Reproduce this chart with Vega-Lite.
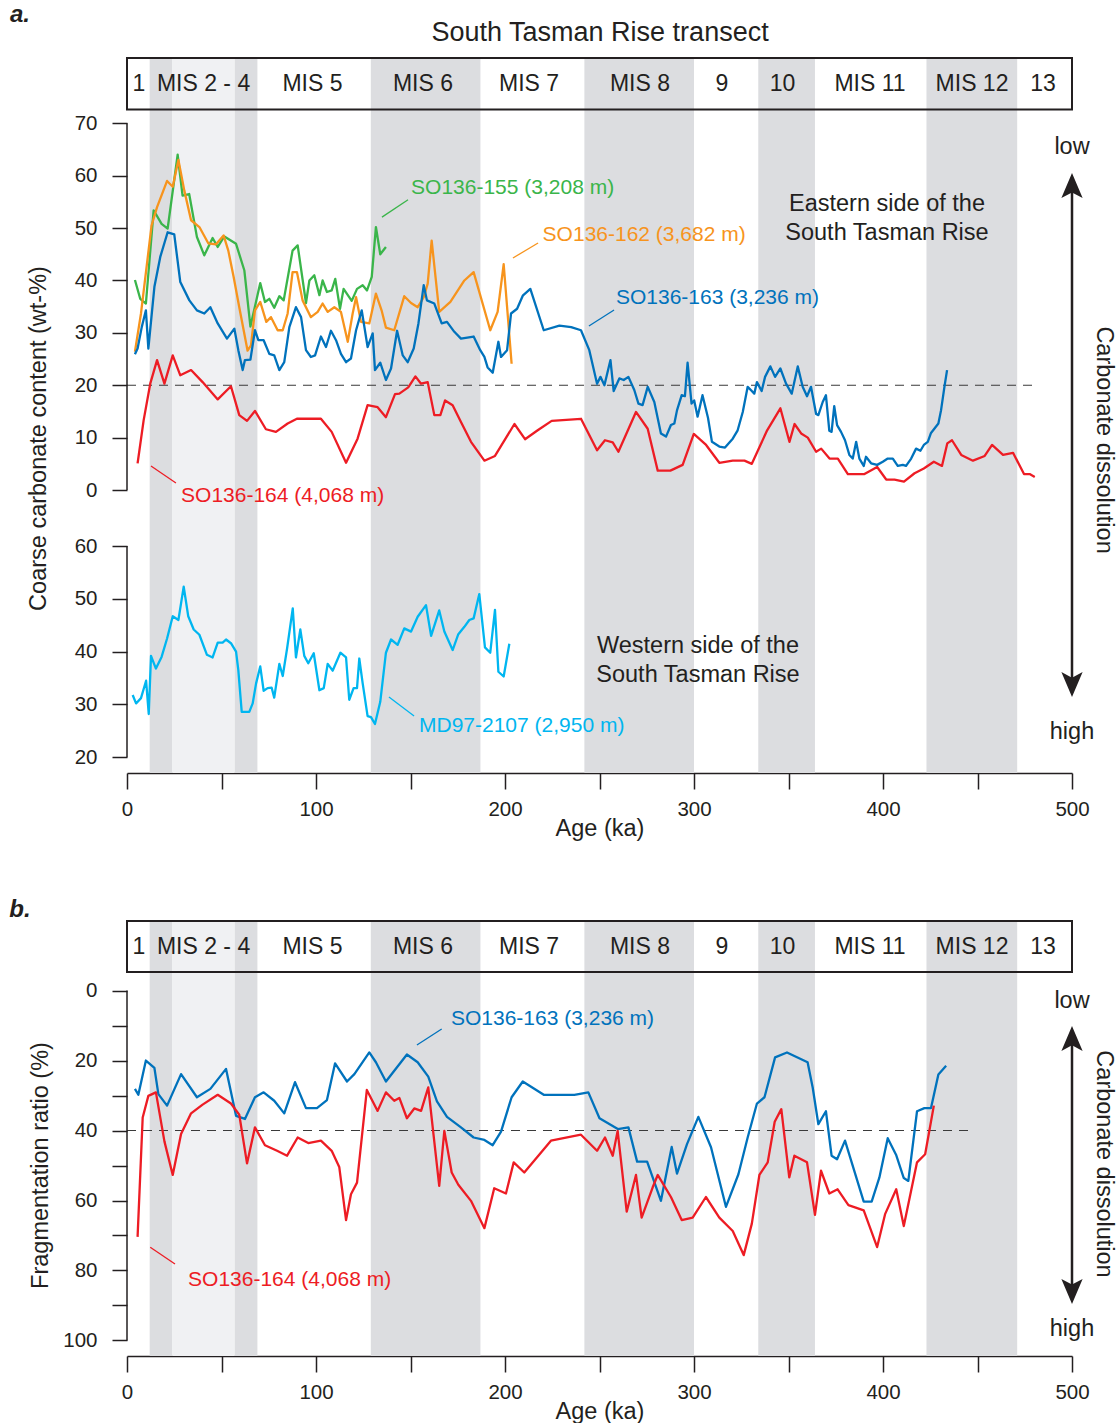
{
  "$schema": "https://vega.github.io/schema/vega-lite/v6.json",
  "background": "white",
  "padding": {"left": 9, "top": 3, "right": 4, "bottom": 0},
  "autosize": {"type": "pad"},
  "spacing": 57,
  "config": {
    "font": "Liberation Sans",
    "view": {"stroke": null},
    "axis": {
      "labelFont": "Liberation Sans", "titleFont": "Liberation Sans",
      "labelFontSize": 20.5, "titleFontSize": 23.5, "titleFontWeight": "normal",
      "labelColor": "#231f20", "titleColor": "#231f20",
      "tickColor": "#231f20", "domainColor": "#231f20",
      "tickWidth": 1.5, "domainWidth": 1.5, "grid": false
    },
    "text": {"font": "Liberation Sans", "color": "#231f20"}
  },
  "datasets": {
    "bands": [
      {"start": 12, "end": 24, "tone": "glacial"},
      {"start": 24, "end": 57, "tone": "interstadial"},
      {"start": 57, "end": 69, "tone": "glacial"},
      {"start": 129, "end": 187, "tone": "glacial"},
      {"start": 242, "end": 300, "tone": "glacial"},
      {"start": 334, "end": 364, "tone": "glacial"},
      {"start": 423, "end": 471, "tone": "glacial"}
    ],
    "stages": [
      {"label": "1", "age": 6.3}, {"label": "MIS 2 - 4", "age": 40.5}, {"label": "MIS 5", "age": 98.1},
      {"label": "MIS 6", "age": 156.6}, {"label": "MIS 7", "age": 212.7}, {"label": "MIS 8", "age": 271.4},
      {"label": "9", "age": 314.8}, {"label": "10", "age": 346.8}, {"label": "MIS 11", "age": 393.1},
      {"label": "MIS 12", "age": 447.1}, {"label": "13", "age": 484.7}
    ],
    "coarse": [
      {"core": "SO136-155", "age": 4.2, "value": 40.1}, {"core": "SO136-155", "age": 7.0, "value": 36.5},
      {"core": "SO136-155", "age": 10.0, "value": 35.6}, {"core": "SO136-155", "age": 14.1, "value": 53.4},
      {"core": "SO136-155", "age": 18.3, "value": 50.8}, {"core": "SO136-155", "age": 21.5, "value": 49.9},
      {"core": "SO136-155", "age": 26.8, "value": 64.0}, {"core": "SO136-155", "age": 29.4, "value": 56.2},
      {"core": "SO136-155", "age": 32.9, "value": 56.5}, {"core": "SO136-155", "age": 37.0, "value": 48.3},
      {"core": "SO136-155", "age": 40.9, "value": 44.8}, {"core": "SO136-155", "age": 45.3, "value": 48.1},
      {"core": "SO136-155", "age": 48.0, "value": 46.4}, {"core": "SO136-155", "age": 51.5, "value": 48.4},
      {"core": "SO136-155", "age": 57.7, "value": 47.0}, {"core": "SO136-155", "age": 62.1, "value": 41.9},
      {"core": "SO136-155", "age": 65.3, "value": 31.2}, {"core": "SO136-155", "age": 70.5, "value": 39.5},
      {"core": "SO136-155", "age": 73.0, "value": 35.9}, {"core": "SO136-155", "age": 75.3, "value": 36.5},
      {"core": "SO136-155", "age": 77.9, "value": 34.8}, {"core": "SO136-155", "age": 80.6, "value": 37.0},
      {"core": "SO136-155", "age": 82.9, "value": 36.2}, {"core": "SO136-155", "age": 87.6, "value": 45.7},
      {"core": "SO136-155", "age": 90.3, "value": 46.7}, {"core": "SO136-155", "age": 94.7, "value": 35.7},
      {"core": "SO136-155", "age": 96.5, "value": 40.0}, {"core": "SO136-155", "age": 99.1, "value": 41.0},
      {"core": "SO136-155", "age": 101.8, "value": 37.2}, {"core": "SO136-155", "age": 103.5, "value": 40.0},
      {"core": "SO136-155", "age": 105.8, "value": 37.8}, {"core": "SO136-155", "age": 108.3, "value": 38.1},
      {"core": "SO136-155", "age": 110.2, "value": 40.3}, {"core": "SO136-155", "age": 112.7, "value": 34.6},
      {"core": "SO136-155", "age": 114.6, "value": 38.4}, {"core": "SO136-155", "age": 118.9, "value": 36.1},
      {"core": "SO136-155", "age": 121.7, "value": 38.4}, {"core": "SO136-155", "age": 124.7, "value": 39.1},
      {"core": "SO136-155", "age": 127.0, "value": 38.1}, {"core": "SO136-155", "age": 129.5, "value": 40.7},
      {"core": "SO136-155", "age": 131.7, "value": 50.2}, {"core": "SO136-155", "age": 134.0, "value": 45.0},
      {"core": "SO136-155", "age": 137.0, "value": 46.4},

      {"core": "SO136-162", "age": 4.2, "value": 26.4}, {"core": "SO136-162", "age": 7.4, "value": 33.7},
      {"core": "SO136-162", "age": 13.0, "value": 50.5}, {"core": "SO136-162", "age": 15.9, "value": 54.0},
      {"core": "SO136-162", "age": 21.2, "value": 59.0}, {"core": "SO136-162", "age": 24.2, "value": 57.9},
      {"core": "SO136-162", "age": 27.2, "value": 63.0}, {"core": "SO136-162", "age": 30.3, "value": 57.2},
      {"core": "SO136-162", "age": 33.9, "value": 51.5}, {"core": "SO136-162", "age": 38.3, "value": 50.2},
      {"core": "SO136-162", "age": 43.0, "value": 47.1}, {"core": "SO136-162", "age": 47.1, "value": 46.9},
      {"core": "SO136-162", "age": 51.1, "value": 48.6}, {"core": "SO136-162", "age": 53.6, "value": 45.7},
      {"core": "SO136-162", "age": 56.4, "value": 40.7}, {"core": "SO136-162", "age": 59.4, "value": 34.9},
      {"core": "SO136-162", "age": 63.8, "value": 26.6}, {"core": "SO136-162", "age": 65.6, "value": 27.6},
      {"core": "SO136-162", "age": 67.7, "value": 34.3}, {"core": "SO136-162", "age": 70.5, "value": 35.9},
      {"core": "SO136-162", "age": 73.7, "value": 32.1}, {"core": "SO136-162", "age": 76.2, "value": 33.0},
      {"core": "SO136-162", "age": 79.7, "value": 30.5}, {"core": "SO136-162", "age": 82.4, "value": 30.5},
      {"core": "SO136-162", "age": 85.0, "value": 33.7}, {"core": "SO136-162", "age": 87.6, "value": 41.6},
      {"core": "SO136-162", "age": 89.9, "value": 41.6}, {"core": "SO136-162", "age": 92.9, "value": 36.2},
      {"core": "SO136-162", "age": 97.3, "value": 33.0}, {"core": "SO136-162", "age": 100.9, "value": 34.0},
      {"core": "SO136-162", "age": 103.5, "value": 35.6}, {"core": "SO136-162", "age": 106.2, "value": 34.0},
      {"core": "SO136-162", "age": 109.7, "value": 34.9}, {"core": "SO136-162", "age": 113.2, "value": 34.0},
      {"core": "SO136-162", "age": 116.8, "value": 28.3}, {"core": "SO136-162", "age": 119.4, "value": 33.7},
      {"core": "SO136-162", "age": 121.2, "value": 36.8}, {"core": "SO136-162", "age": 123.8, "value": 32.1},
      {"core": "SO136-162", "age": 128.2, "value": 31.8}, {"core": "SO136-162", "age": 131.7, "value": 37.5},
      {"core": "SO136-162", "age": 134.7, "value": 34.3}, {"core": "SO136-162", "age": 137.0, "value": 31.0},
      {"core": "SO136-162", "age": 141.4, "value": 30.5}, {"core": "SO136-162", "age": 146.7, "value": 37.0},
      {"core": "SO136-162", "age": 150.3, "value": 35.7}, {"core": "SO136-162", "age": 153.8, "value": 34.9},
      {"core": "SO136-162", "age": 157.0, "value": 36.8}, {"core": "SO136-162", "age": 159.1, "value": 39.4},
      {"core": "SO136-162", "age": 161.2, "value": 47.6}, {"core": "SO136-162", "age": 165.2, "value": 34.0},
      {"core": "SO136-162", "age": 171.1, "value": 35.9}, {"core": "SO136-162", "age": 178.5, "value": 40.0},
      {"core": "SO136-162", "age": 183.4, "value": 41.6}, {"core": "SO136-162", "age": 192.2, "value": 30.5},
      {"core": "SO136-162", "age": 196.1, "value": 34.0}, {"core": "SO136-162", "age": 199.3, "value": 43.1},
      {"core": "SO136-162", "age": 203.5, "value": 24.1},

      {"core": "SO136-163", "age": 4.2, "value": 25.9}, {"core": "SO136-163", "age": 5.6, "value": 27.0},
      {"core": "SO136-163", "age": 7.8, "value": 31.1}, {"core": "SO136-163", "age": 10.0, "value": 34.3},
      {"core": "SO136-163", "age": 11.3, "value": 27.0}, {"core": "SO136-163", "age": 14.5, "value": 38.8},
      {"core": "SO136-163", "age": 17.6, "value": 44.5}, {"core": "SO136-163", "age": 21.5, "value": 49.2},
      {"core": "SO136-163", "age": 25.0, "value": 48.8}, {"core": "SO136-163", "age": 28.2, "value": 39.7},
      {"core": "SO136-163", "age": 33.0, "value": 36.2}, {"core": "SO136-163", "age": 37.0, "value": 34.3},
      {"core": "SO136-163", "age": 40.9, "value": 33.7}, {"core": "SO136-163", "age": 44.1, "value": 34.9},
      {"core": "SO136-163", "age": 48.0, "value": 31.8}, {"core": "SO136-163", "age": 52.9, "value": 28.9},
      {"core": "SO136-163", "age": 56.8, "value": 30.8}, {"core": "SO136-163", "age": 58.9, "value": 26.7},
      {"core": "SO136-163", "age": 61.2, "value": 22.9}, {"core": "SO136-163", "age": 62.4, "value": 24.8},
      {"core": "SO136-163", "age": 65.3, "value": 24.9}, {"core": "SO136-163", "age": 67.7, "value": 30.5},
      {"core": "SO136-163", "age": 69.5, "value": 28.6}, {"core": "SO136-163", "age": 72.3, "value": 28.6},
      {"core": "SO136-163", "age": 75.3, "value": 26.0}, {"core": "SO136-163", "age": 77.9, "value": 25.7},
      {"core": "SO136-163", "age": 80.6, "value": 22.9}, {"core": "SO136-163", "age": 83.2, "value": 24.4},
      {"core": "SO136-163", "age": 85.9, "value": 31.1}, {"core": "SO136-163", "age": 89.4, "value": 34.9},
      {"core": "SO136-163", "age": 92.1, "value": 33.0}, {"core": "SO136-163", "age": 94.7, "value": 26.7},
      {"core": "SO136-163", "age": 97.3, "value": 25.4}, {"core": "SO136-163", "age": 99.5, "value": 25.7},
      {"core": "SO136-163", "age": 102.6, "value": 29.3}, {"core": "SO136-163", "age": 105.3, "value": 27.3},
      {"core": "SO136-163", "age": 107.9, "value": 30.4}, {"core": "SO136-163", "age": 110.6, "value": 28.6},
      {"core": "SO136-163", "age": 113.2, "value": 26.0}, {"core": "SO136-163", "age": 115.9, "value": 24.4},
      {"core": "SO136-163", "age": 118.5, "value": 25.1}, {"core": "SO136-163", "age": 121.2, "value": 30.5},
      {"core": "SO136-163", "age": 124.2, "value": 34.3}, {"core": "SO136-163", "age": 127.3, "value": 27.3},
      {"core": "SO136-163", "age": 130.0, "value": 29.9}, {"core": "SO136-163", "age": 131.2, "value": 22.9},
      {"core": "SO136-163", "age": 134.0, "value": 24.3}, {"core": "SO136-163", "age": 137.0, "value": 21.0},
      {"core": "SO136-163", "age": 139.7, "value": 23.2}, {"core": "SO136-163", "age": 142.9, "value": 30.4},
      {"core": "SO136-163", "age": 145.9, "value": 25.7}, {"core": "SO136-163", "age": 148.5, "value": 24.4},
      {"core": "SO136-163", "age": 151.7, "value": 27.0}, {"core": "SO136-163", "age": 154.2, "value": 31.8},
      {"core": "SO136-163", "age": 157.0, "value": 39.1}, {"core": "SO136-163", "age": 158.7, "value": 36.2},
      {"core": "SO136-163", "age": 162.6, "value": 35.6}, {"core": "SO136-163", "age": 166.5, "value": 31.8},
      {"core": "SO136-163", "age": 169.3, "value": 32.1}, {"core": "SO136-163", "age": 173.2, "value": 30.2},
      {"core": "SO136-163", "age": 176.7, "value": 28.9}, {"core": "SO136-163", "age": 183.4, "value": 29.3},
      {"core": "SO136-163", "age": 186.9, "value": 26.7}, {"core": "SO136-163", "age": 189.1, "value": 25.4},
      {"core": "SO136-163", "age": 190.8, "value": 23.4}, {"core": "SO136-163", "age": 193.5, "value": 22.4},
      {"core": "SO136-163", "age": 196.5, "value": 28.3}, {"core": "SO136-163", "age": 197.9, "value": 25.4},
      {"core": "SO136-163", "age": 201.1, "value": 26.7}, {"core": "SO136-163", "age": 203.2, "value": 33.7},
      {"core": "SO136-163", "age": 206.4, "value": 34.6}, {"core": "SO136-163", "age": 209.4, "value": 37.1},
      {"core": "SO136-163", "age": 213.4, "value": 38.4}, {"core": "SO136-163", "age": 220.5, "value": 30.5},
      {"core": "SO136-163", "age": 228.8, "value": 31.4}, {"core": "SO136-163", "age": 235.0, "value": 31.1},
      {"core": "SO136-163", "age": 240.2, "value": 30.5}, {"core": "SO136-163", "age": 244.6, "value": 26.7},
      {"core": "SO136-163", "age": 248.7, "value": 20.3}, {"core": "SO136-163", "age": 250.5, "value": 21.6},
      {"core": "SO136-163", "age": 252.6, "value": 20.0}, {"core": "SO136-163", "age": 255.8, "value": 24.8},
      {"core": "SO136-163", "age": 257.5, "value": 18.9}, {"core": "SO136-163", "age": 260.5, "value": 21.3},
      {"core": "SO136-163", "age": 262.8, "value": 21.0}, {"core": "SO136-163", "age": 265.3, "value": 21.6},
      {"core": "SO136-163", "age": 268.4, "value": 19.1}, {"core": "SO136-163", "age": 270.6, "value": 16.5},
      {"core": "SO136-163", "age": 272.8, "value": 16.2}, {"core": "SO136-163", "age": 275.5, "value": 19.7},
      {"core": "SO136-163", "age": 279.0, "value": 16.8}, {"core": "SO136-163", "age": 282.5, "value": 10.8},
      {"core": "SO136-163", "age": 285.2, "value": 10.2}, {"core": "SO136-163", "age": 287.8, "value": 12.4},
      {"core": "SO136-163", "age": 289.6, "value": 12.7}, {"core": "SO136-163", "age": 291.0, "value": 15.2},
      {"core": "SO136-163", "age": 293.5, "value": 18.1}, {"core": "SO136-163", "age": 295.2, "value": 17.9},
      {"core": "SO136-163", "age": 296.6, "value": 24.3}, {"core": "SO136-163", "age": 298.7, "value": 16.5},
      {"core": "SO136-163", "age": 300.1, "value": 17.1}, {"core": "SO136-163", "age": 301.9, "value": 14.0},
      {"core": "SO136-163", "age": 304.5, "value": 18.1}, {"core": "SO136-163", "age": 307.4, "value": 13.8},
      {"core": "SO136-163", "age": 309.5, "value": 9.2}, {"core": "SO136-163", "age": 313.4, "value": 8.3},
      {"core": "SO136-163", "age": 316.4, "value": 8.1}, {"core": "SO136-163", "age": 320.5, "value": 9.8},
      {"core": "SO136-163", "age": 323.1, "value": 11.4}, {"core": "SO136-163", "age": 325.8, "value": 14.9},
      {"core": "SO136-163", "age": 328.4, "value": 19.7}, {"core": "SO136-163", "age": 330.2, "value": 19.05},
      {"core": "SO136-163", "age": 331.9, "value": 18.4}, {"core": "SO136-163", "age": 333.3, "value": 20.6},
      {"core": "SO136-163", "age": 335.8, "value": 18.9}, {"core": "SO136-163", "age": 337.6, "value": 21.6},
      {"core": "SO136-163", "age": 340.4, "value": 23.6}, {"core": "SO136-163", "age": 342.9, "value": 21.6},
      {"core": "SO136-163", "age": 345.7, "value": 23.2}, {"core": "SO136-163", "age": 348.7, "value": 20.3},
      {"core": "SO136-163", "age": 351.7, "value": 18.4}, {"core": "SO136-163", "age": 354.9, "value": 23.6},
      {"core": "SO136-163", "age": 357.5, "value": 19.7}, {"core": "SO136-163", "age": 359.8, "value": 17.9},
      {"core": "SO136-163", "age": 361.9, "value": 19.7}, {"core": "SO136-163", "age": 364.6, "value": 14.5},
      {"core": "SO136-163", "age": 365.8, "value": 14.3}, {"core": "SO136-163", "age": 368.1, "value": 16.8},
      {"core": "SO136-163", "age": 369.8, "value": 18.1}, {"core": "SO136-163", "age": 371.6, "value": 11.3},
      {"core": "SO136-163", "age": 372.8, "value": 11.1}, {"core": "SO136-163", "age": 374.2, "value": 16.0},
      {"core": "SO136-163", "age": 375.7, "value": 12.4}, {"core": "SO136-163", "age": 377.8, "value": 11.1},
      {"core": "SO136-163", "age": 379.9, "value": 9.5}, {"core": "SO136-163", "age": 382.2, "value": 6.7},
      {"core": "SO136-163", "age": 384.0, "value": 6.0}, {"core": "SO136-163", "age": 385.8, "value": 9.2},
      {"core": "SO136-163", "age": 387.5, "value": 6.0}, {"core": "SO136-163", "age": 389.8, "value": 4.6},
      {"core": "SO136-163", "age": 391.0, "value": 6.35}, {"core": "SO136-163", "age": 393.7, "value": 5.1},
      {"core": "SO136-163", "age": 396.9, "value": 4.8}, {"core": "SO136-163", "age": 399.9, "value": 5.4},
      {"core": "SO136-163", "age": 402.5, "value": 6.0}, {"core": "SO136-163", "age": 405.2, "value": 6.0},
      {"core": "SO136-163", "age": 407.8, "value": 4.6}, {"core": "SO136-163", "age": 410.5, "value": 4.8},
      {"core": "SO136-163", "age": 412.2, "value": 4.6}, {"core": "SO136-163", "age": 414.9, "value": 6.0},
      {"core": "SO136-163", "age": 417.5, "value": 7.9}, {"core": "SO136-163", "age": 419.8, "value": 7.5},
      {"core": "SO136-163", "age": 421.6, "value": 8.6}, {"core": "SO136-163", "age": 423.7, "value": 9.2},
      {"core": "SO136-163", "age": 425.4, "value": 10.9}, {"core": "SO136-163", "age": 429.3, "value": 12.7},
      {"core": "SO136-163", "age": 430.7, "value": 15.2}, {"core": "SO136-163", "age": 432.5, "value": 19.7},
      {"core": "SO136-163", "age": 433.9, "value": 22.9},

      {"core": "SO136-164", "age": 5.6, "value": 5.1}, {"core": "SO136-164", "age": 8.8, "value": 13.3},
      {"core": "SO136-164", "age": 12.3, "value": 20.3}, {"core": "SO136-164", "age": 15.9, "value": 24.8},
      {"core": "SO136-164", "age": 19.8, "value": 20.3}, {"core": "SO136-164", "age": 24.2, "value": 25.7},
      {"core": "SO136-164", "age": 28.2, "value": 21.9}, {"core": "SO136-164", "age": 33.9, "value": 22.9},
      {"core": "SO136-164", "age": 40.0, "value": 20.6}, {"core": "SO136-164", "age": 48.0, "value": 17.3},
      {"core": "SO136-164", "age": 55.0, "value": 19.8}, {"core": "SO136-164", "age": 59.4, "value": 14.3},
      {"core": "SO136-164", "age": 63.5, "value": 13.2}, {"core": "SO136-164", "age": 67.7, "value": 15.1},
      {"core": "SO136-164", "age": 73.5, "value": 11.6}, {"core": "SO136-164", "age": 78.8, "value": 11.1},
      {"core": "SO136-164", "age": 85.0, "value": 12.7}, {"core": "SO136-164", "age": 89.9, "value": 13.6},
      {"core": "SO136-164", "age": 102.6, "value": 13.6}, {"core": "SO136-164", "age": 108.3, "value": 11.1},
      {"core": "SO136-164", "age": 115.9, "value": 5.2}, {"core": "SO136-164", "age": 122.0, "value": 9.8},
      {"core": "SO136-164", "age": 127.3, "value": 16.2}, {"core": "SO136-164", "age": 132.6, "value": 15.8},
      {"core": "SO136-164", "age": 137.0, "value": 13.9}, {"core": "SO136-164", "age": 141.8, "value": 18.3},
      {"core": "SO136-164", "age": 144.1, "value": 18.4}, {"core": "SO136-164", "age": 148.8, "value": 19.6},
      {"core": "SO136-164", "age": 152.6, "value": 21.7}, {"core": "SO136-164", "age": 155.6, "value": 20.3},
      {"core": "SO136-164", "age": 159.1, "value": 20.6}, {"core": "SO136-164", "age": 162.6, "value": 14.3},
      {"core": "SO136-164", "age": 165.8, "value": 14.3}, {"core": "SO136-164", "age": 168.3, "value": 17.1},
      {"core": "SO136-164", "age": 172.3, "value": 16.2}, {"core": "SO136-164", "age": 176.7, "value": 13.0},
      {"core": "SO136-164", "age": 182.0, "value": 9.2}, {"core": "SO136-164", "age": 189.1, "value": 5.6},
      {"core": "SO136-164", "age": 194.7, "value": 6.5}, {"core": "SO136-164", "age": 205.0, "value": 12.6},
      {"core": "SO136-164", "age": 210.6, "value": 9.7}, {"core": "SO136-164", "age": 217.3, "value": 11.4},
      {"core": "SO136-164", "age": 224.7, "value": 13.2}, {"core": "SO136-164", "age": 240.2, "value": 13.6},
      {"core": "SO136-164", "age": 248.7, "value": 7.6}, {"core": "SO136-164", "age": 252.9, "value": 9.5},
      {"core": "SO136-164", "age": 257.0, "value": 9.1}, {"core": "SO136-164", "age": 260.0, "value": 7.3},
      {"core": "SO136-164", "age": 269.3, "value": 14.9}, {"core": "SO136-164", "age": 275.5, "value": 11.7},
      {"core": "SO136-164", "age": 280.8, "value": 3.7}, {"core": "SO136-164", "age": 287.5, "value": 3.7},
      {"core": "SO136-164", "age": 294.0, "value": 4.8}, {"core": "SO136-164", "age": 299.9, "value": 10.7},
      {"core": "SO136-164", "age": 306.4, "value": 8.6}, {"core": "SO136-164", "age": 313.4, "value": 5.2},
      {"core": "SO136-164", "age": 320.5, "value": 5.6}, {"core": "SO136-164", "age": 326.7, "value": 5.6},
      {"core": "SO136-164", "age": 330.6, "value": 5.0}, {"core": "SO136-164", "age": 338.7, "value": 11.4},
      {"core": "SO136-164", "age": 345.7, "value": 15.6}, {"core": "SO136-164", "age": 350.5, "value": 9.2},
      {"core": "SO136-164", "age": 353.2, "value": 12.6}, {"core": "SO136-164", "age": 356.7, "value": 10.8},
      {"core": "SO136-164", "age": 360.2, "value": 10.0}, {"core": "SO136-164", "age": 364.6, "value": 7.3},
      {"core": "SO136-164", "age": 367.3, "value": 7.9}, {"core": "SO136-164", "age": 371.7, "value": 6.0},
      {"core": "SO136-164", "age": 376.1, "value": 6.0}, {"core": "SO136-164", "age": 381.4, "value": 3.05},
      {"core": "SO136-164", "age": 390.2, "value": 3.05}, {"core": "SO136-164", "age": 396.9, "value": 4.4},
      {"core": "SO136-164", "age": 401.7, "value": 2.0}, {"core": "SO136-164", "age": 406.1, "value": 2.0},
      {"core": "SO136-164", "age": 411.1, "value": 1.6}, {"core": "SO136-164", "age": 416.7, "value": 3.2},
      {"core": "SO136-164", "age": 421.6, "value": 4.1}, {"core": "SO136-164", "age": 426.9, "value": 5.4},
      {"core": "SO136-164", "age": 431.2, "value": 4.6}, {"core": "SO136-164", "age": 434.0, "value": 8.9},
      {"core": "SO136-164", "age": 436.5, "value": 9.5}, {"core": "SO136-164", "age": 441.4, "value": 6.7},
      {"core": "SO136-164", "age": 447.6, "value": 5.6}, {"core": "SO136-164", "age": 453.8, "value": 6.5},
      {"core": "SO136-164", "age": 457.7, "value": 8.6}, {"core": "SO136-164", "age": 463.5, "value": 6.7},
      {"core": "SO136-164", "age": 468.8, "value": 7.1}, {"core": "SO136-164", "age": 474.6, "value": 3.05},
      {"core": "SO136-164", "age": 477.6, "value": 3.05}, {"core": "SO136-164", "age": 480.3, "value": 2.5}
    ],
    "md97": [
      {"core": "MD97-2107", "age": 3.0, "value": 31.8}, {"core": "MD97-2107", "age": 4.8, "value": 30.2},
      {"core": "MD97-2107", "age": 7.4, "value": 31.2}, {"core": "MD97-2107", "age": 10.1, "value": 34.5},
      {"core": "MD97-2107", "age": 11.5, "value": 28.2}, {"core": "MD97-2107", "age": 12.7, "value": 39.2},
      {"core": "MD97-2107", "age": 15.3, "value": 36.8}, {"core": "MD97-2107", "age": 18.3, "value": 39.0},
      {"core": "MD97-2107", "age": 21.2, "value": 42.5}, {"core": "MD97-2107", "age": 24.2, "value": 46.7},
      {"core": "MD97-2107", "age": 27.2, "value": 46.0}, {"core": "MD97-2107", "age": 30.0, "value": 52.3},
      {"core": "MD97-2107", "age": 32.4, "value": 46.7}, {"core": "MD97-2107", "age": 35.3, "value": 44.2},
      {"core": "MD97-2107", "age": 38.3, "value": 43.2}, {"core": "MD97-2107", "age": 42.3, "value": 39.4},
      {"core": "MD97-2107", "age": 45.3, "value": 38.9}, {"core": "MD97-2107", "age": 48.0, "value": 41.7},
      {"core": "MD97-2107", "age": 50.6, "value": 41.7}, {"core": "MD97-2107", "age": 52.4, "value": 42.3},
      {"core": "MD97-2107", "age": 55.0, "value": 41.6}, {"core": "MD97-2107", "age": 57.7, "value": 40.0},
      {"core": "MD97-2107", "age": 58.9, "value": 36.5}, {"core": "MD97-2107", "age": 60.7, "value": 28.6},
      {"core": "MD97-2107", "age": 64.7, "value": 28.6}, {"core": "MD97-2107", "age": 66.5, "value": 30.2},
      {"core": "MD97-2107", "age": 68.3, "value": 34.0}, {"core": "MD97-2107", "age": 70.5, "value": 37.2},
      {"core": "MD97-2107", "age": 72.3, "value": 32.6}, {"core": "MD97-2107", "age": 74.4, "value": 33.1},
      {"core": "MD97-2107", "age": 76.5, "value": 33.2}, {"core": "MD97-2107", "age": 77.9, "value": 31.3},
      {"core": "MD97-2107", "age": 80.6, "value": 37.7}, {"core": "MD97-2107", "age": 82.4, "value": 35.4},
      {"core": "MD97-2107", "age": 84.7, "value": 40.6}, {"core": "MD97-2107", "age": 87.7, "value": 48.2},
      {"core": "MD97-2107", "age": 89.4, "value": 38.9}, {"core": "MD97-2107", "age": 91.7, "value": 44.2},
      {"core": "MD97-2107", "age": 93.8, "value": 39.2}, {"core": "MD97-2107", "age": 95.9, "value": 37.8},
      {"core": "MD97-2107", "age": 98.8, "value": 39.7}, {"core": "MD97-2107", "age": 101.8, "value": 32.7},
      {"core": "MD97-2107", "age": 104.1, "value": 33.1}, {"core": "MD97-2107", "age": 106.2, "value": 37.7},
      {"core": "MD97-2107", "age": 108.8, "value": 36.4}, {"core": "MD97-2107", "age": 112.9, "value": 39.8},
      {"core": "MD97-2107", "age": 115.9, "value": 38.9}, {"core": "MD97-2107", "age": 117.6, "value": 30.9},
      {"core": "MD97-2107", "age": 119.9, "value": 33.1}, {"core": "MD97-2107", "age": 121.7, "value": 33.1},
      {"core": "MD97-2107", "age": 122.9, "value": 38.7}, {"core": "MD97-2107", "age": 124.7, "value": 34.0},
      {"core": "MD97-2107", "age": 127.3, "value": 27.8}, {"core": "MD97-2107", "age": 129.1, "value": 27.6},
      {"core": "MD97-2107", "age": 131.2, "value": 26.3}, {"core": "MD97-2107", "age": 134.0, "value": 30.5},
      {"core": "MD97-2107", "age": 137.0, "value": 39.8}, {"core": "MD97-2107", "age": 139.7, "value": 42.3},
      {"core": "MD97-2107", "age": 143.2, "value": 41.3}, {"core": "MD97-2107", "age": 146.7, "value": 44.4},
      {"core": "MD97-2107", "age": 150.3, "value": 43.8}, {"core": "MD97-2107", "age": 153.8, "value": 46.6},
      {"core": "MD97-2107", "age": 158.2, "value": 48.8}, {"core": "MD97-2107", "age": 160.9, "value": 43.0},
      {"core": "MD97-2107", "age": 165.2, "value": 47.8}, {"core": "MD97-2107", "age": 167.9, "value": 43.8},
      {"core": "MD97-2107", "age": 172.3, "value": 40.3}, {"core": "MD97-2107", "age": 175.3, "value": 43.3},
      {"core": "MD97-2107", "age": 178.5, "value": 44.7}, {"core": "MD97-2107", "age": 181.1, "value": 46.0},
      {"core": "MD97-2107", "age": 183.4, "value": 46.3}, {"core": "MD97-2107", "age": 186.4, "value": 50.9},
      {"core": "MD97-2107", "age": 189.4, "value": 40.8}, {"core": "MD97-2107", "age": 192.2, "value": 39.8},
      {"core": "MD97-2107", "age": 194.7, "value": 47.9}, {"core": "MD97-2107", "age": 196.5, "value": 36.2},
      {"core": "MD97-2107", "age": 199.3, "value": 35.3}, {"core": "MD97-2107", "age": 202.3, "value": 41.5}
    ],
    "fragmentation": [
      {"core": "SO136-163", "age": 4.2, "value": 28.1}, {"core": "SO136-163", "age": 6.0, "value": 29.8},
      {"core": "SO136-163", "age": 10.0, "value": 20.0}, {"core": "SO136-163", "age": 14.5, "value": 22.1},
      {"core": "SO136-163", "age": 16.6, "value": 29.6}, {"core": "SO136-163", "age": 21.2, "value": 32.9},
      {"core": "SO136-163", "age": 28.6, "value": 23.9}, {"core": "SO136-163", "age": 37.0, "value": 30.5},
      {"core": "SO136-163", "age": 44.1, "value": 28.1}, {"core": "SO136-163", "age": 52.4, "value": 22.4},
      {"core": "SO136-163", "age": 57.7, "value": 35.8}, {"core": "SO136-163", "age": 62.4, "value": 36.7},
      {"core": "SO136-163", "age": 67.7, "value": 30.5}, {"core": "SO136-163", "age": 72.3, "value": 29.1},
      {"core": "SO136-163", "age": 77.9, "value": 31.5}, {"core": "SO136-163", "age": 83.2, "value": 35.1},
      {"core": "SO136-163", "age": 88.9, "value": 26.2}, {"core": "SO136-163", "age": 94.7, "value": 33.6},
      {"core": "SO136-163", "age": 100.5, "value": 33.6}, {"core": "SO136-163", "age": 105.8, "value": 31.3},
      {"core": "SO136-163", "age": 110.1, "value": 20.8}, {"core": "SO136-163", "age": 116.4, "value": 26.0},
      {"core": "SO136-163", "age": 120.3, "value": 23.9}, {"core": "SO136-163", "age": 128.2, "value": 17.7},
      {"core": "SO136-163", "age": 131.7, "value": 20.5}, {"core": "SO136-163", "age": 137.0, "value": 26.0},
      {"core": "SO136-163", "age": 148.1, "value": 18.3}, {"core": "SO136-163", "age": 153.8, "value": 20.5},
      {"core": "SO136-163", "age": 159.4, "value": 24.6}, {"core": "SO136-163", "age": 164.0, "value": 31.7},
      {"core": "SO136-163", "age": 169.3, "value": 36.1}, {"core": "SO136-163", "age": 176.7, "value": 39.1},
      {"core": "SO136-163", "age": 183.4, "value": 42.0}, {"core": "SO136-163", "age": 189.1, "value": 42.7},
      {"core": "SO136-163", "age": 193.5, "value": 44.2}, {"core": "SO136-163", "age": 197.9, "value": 40.3},
      {"core": "SO136-163", "age": 203.5, "value": 30.5}, {"core": "SO136-163", "age": 209.4, "value": 26.0},
      {"core": "SO136-163", "age": 220.5, "value": 29.8}, {"core": "SO136-163", "age": 236.7, "value": 29.8},
      {"core": "SO136-163", "age": 244.1, "value": 29.1}, {"core": "SO136-163", "age": 250.0, "value": 36.5},
      {"core": "SO136-163", "age": 259.7, "value": 39.6}, {"core": "SO136-163", "age": 265.3, "value": 39.1},
      {"core": "SO136-163", "age": 269.9, "value": 48.9}, {"core": "SO136-163", "age": 275.2, "value": 48.9},
      {"core": "SO136-163", "age": 282.5, "value": 60.1}, {"core": "SO136-163", "age": 288.2, "value": 44.7},
      {"core": "SO136-163", "age": 291.0, "value": 52.3}, {"core": "SO136-163", "age": 296.3, "value": 43.9},
      {"core": "SO136-163", "age": 302.3, "value": 36.1}, {"core": "SO136-163", "age": 309.0, "value": 44.8},
      {"core": "SO136-163", "age": 316.9, "value": 61.8}, {"core": "SO136-163", "age": 323.5, "value": 52.5},
      {"core": "SO136-163", "age": 328.4, "value": 42.0}, {"core": "SO136-163", "age": 333.3, "value": 32.3},
      {"core": "SO136-163", "age": 337.3, "value": 30.5}, {"core": "SO136-163", "age": 342.9, "value": 19.1},
      {"core": "SO136-163", "age": 349.2, "value": 17.7}, {"core": "SO136-163", "age": 360.1, "value": 20.5},
      {"core": "SO136-163", "age": 362.8, "value": 27.7}, {"core": "SO136-163", "age": 365.8, "value": 38.2},
      {"core": "SO136-163", "age": 369.8, "value": 34.5}, {"core": "SO136-163", "age": 372.8, "value": 47.2},
      {"core": "SO136-163", "age": 375.7, "value": 48.2}, {"core": "SO136-163", "age": 379.9, "value": 42.9},
      {"core": "SO136-163", "age": 389.8, "value": 60.3}, {"core": "SO136-163", "age": 394.0, "value": 60.3},
      {"core": "SO136-163", "age": 398.1, "value": 53.4}, {"core": "SO136-163", "age": 402.5, "value": 42.2},
      {"core": "SO136-163", "age": 406.9, "value": 46.9}, {"core": "SO136-163", "age": 411.0, "value": 53.6},
      {"core": "SO136-163", "age": 413.4, "value": 54.4}, {"core": "SO136-163", "age": 418.0, "value": 34.5},
      {"core": "SO136-163", "age": 421.9, "value": 33.6}, {"core": "SO136-163", "age": 425.4, "value": 33.6},
      {"core": "SO136-163", "age": 429.3, "value": 24.0}, {"core": "SO136-163", "age": 433.4, "value": 21.5},

      {"core": "SO136-164", "age": 5.6, "value": 70.4}, {"core": "SO136-164", "age": 8.3, "value": 36.3},
      {"core": "SO136-164", "age": 11.3, "value": 30.1}, {"core": "SO136-164", "age": 15.3, "value": 29.1},
      {"core": "SO136-164", "age": 19.8, "value": 43.1}, {"core": "SO136-164", "age": 24.2, "value": 52.7},
      {"core": "SO136-164", "age": 28.6, "value": 41.0}, {"core": "SO136-164", "age": 33.9, "value": 35.1},
      {"core": "SO136-164", "age": 40.0, "value": 32.6}, {"core": "SO136-164", "age": 48.0, "value": 29.8},
      {"core": "SO136-164", "age": 55.0, "value": 32.3}, {"core": "SO136-164", "age": 59.4, "value": 35.5},
      {"core": "SO136-164", "age": 63.5, "value": 49.4}, {"core": "SO136-164", "age": 67.7, "value": 39.1},
      {"core": "SO136-164", "age": 73.0, "value": 44.2}, {"core": "SO136-164", "age": 79.4, "value": 45.8},
      {"core": "SO136-164", "age": 84.7, "value": 47.2}, {"core": "SO136-164", "age": 90.3, "value": 42.0},
      {"core": "SO136-164", "age": 95.9, "value": 43.6}, {"core": "SO136-164", "age": 102.6, "value": 42.9},
      {"core": "SO136-164", "age": 108.3, "value": 45.8}, {"core": "SO136-164", "age": 112.3, "value": 50.4},
      {"core": "SO136-164", "age": 115.9, "value": 65.6}, {"core": "SO136-164", "age": 118.5, "value": 58.2},
      {"core": "SO136-164", "age": 121.7, "value": 54.9}, {"core": "SO136-164", "age": 126.9, "value": 28.4},
      {"core": "SO136-164", "age": 132.6, "value": 34.4}, {"core": "SO136-164", "age": 137.0, "value": 29.1},
      {"core": "SO136-164", "age": 141.4, "value": 31.5}, {"core": "SO136-164", "age": 144.1, "value": 30.7},
      {"core": "SO136-164", "age": 148.1, "value": 36.5}, {"core": "SO136-164", "age": 152.0, "value": 33.7},
      {"core": "SO136-164", "age": 155.6, "value": 34.4}, {"core": "SO136-164", "age": 159.4, "value": 27.7},
      {"core": "SO136-164", "age": 165.2, "value": 55.8}, {"core": "SO136-164", "age": 167.9, "value": 40.1},
      {"core": "SO136-164", "age": 171.8, "value": 52.0}, {"core": "SO136-164", "age": 175.3, "value": 55.5},
      {"core": "SO136-164", "age": 182.0, "value": 60.1}, {"core": "SO136-164", "age": 189.1, "value": 67.9},
      {"core": "SO136-164", "age": 194.3, "value": 56.5}, {"core": "SO136-164", "age": 200.5, "value": 58.0},
      {"core": "SO136-164", "age": 204.6, "value": 49.1}, {"core": "SO136-164", "age": 210.2, "value": 52.0},
      {"core": "SO136-164", "age": 224.3, "value": 42.9}, {"core": "SO136-164", "age": 240.2, "value": 41.2},
      {"core": "SO136-164", "age": 248.7, "value": 45.8}, {"core": "SO136-164", "age": 252.9, "value": 42.0},
      {"core": "SO136-164", "age": 257.0, "value": 47.2}, {"core": "SO136-164", "age": 259.6, "value": 40.1},
      {"core": "SO136-164", "age": 264.4, "value": 63.2}, {"core": "SO136-164", "age": 269.3, "value": 52.7},
      {"core": "SO136-164", "age": 272.3, "value": 64.9}, {"core": "SO136-164", "age": 278.1, "value": 56.3},
      {"core": "SO136-164", "age": 280.8, "value": 52.7}, {"core": "SO136-164", "age": 287.8, "value": 59.0},
      {"core": "SO136-164", "age": 293.5, "value": 65.6}, {"core": "SO136-164", "age": 299.3, "value": 64.9},
      {"core": "SO136-164", "age": 306.3, "value": 59.0}, {"core": "SO136-164", "age": 313.4, "value": 64.9},
      {"core": "SO136-164", "age": 320.5, "value": 68.7}, {"core": "SO136-164", "age": 326.3, "value": 75.6},
      {"core": "SO136-164", "age": 330.6, "value": 66.6}, {"core": "SO136-164", "age": 334.6, "value": 52.7},
      {"core": "SO136-164", "age": 339.0, "value": 49.1}, {"core": "SO136-164", "age": 342.7, "value": 37.5},
      {"core": "SO136-164", "age": 346.2, "value": 33.9}, {"core": "SO136-164", "age": 350.4, "value": 53.4},
      {"core": "SO136-164", "age": 353.1, "value": 47.2}, {"core": "SO136-164", "age": 359.8, "value": 49.1},
      {"core": "SO136-164", "age": 364.0, "value": 64.1}, {"core": "SO136-164", "age": 367.2, "value": 51.5},
      {"core": "SO136-164", "age": 371.6, "value": 58.0}, {"core": "SO136-164", "age": 376.0, "value": 56.8},
      {"core": "SO136-164", "age": 381.7, "value": 61.3}, {"core": "SO136-164", "age": 389.8, "value": 62.8},
      {"core": "SO136-164", "age": 396.9, "value": 73.3}, {"core": "SO136-164", "age": 401.1, "value": 63.9},
      {"core": "SO136-164", "age": 407.0, "value": 56.8}, {"core": "SO136-164", "age": 411.0, "value": 67.3},
      {"core": "SO136-164", "age": 418.0, "value": 49.1}, {"core": "SO136-164", "age": 422.3, "value": 46.8},
      {"core": "SO136-164", "age": 426.9, "value": 32.9}
    ]
  },
  "vconcat": [
    {
      "width": 945,
      "height": 715,
      "data": {"values": [{}]},
      "layer": [
        {
          "data": {"name": "bands"},
          "mark": {"type": "rect"},
          "encoding": {
            "x": {
              "field": "start", "type": "quantitative",
              "scale": {"domain": [0, 500], "nice": false, "zero": false},
              "axis": {
                "title": "Age (ka)", "values": [0, 50, 100, 150, 200, 250, 300, 350, 400, 450, 500],
                "labelExpr": "datum.value % 100 === 0 ? datum.label : ''",
                "tickSize": 16, "labelPadding": 10, "titlePadding": -3, "labelFlush": false, "labelOverlap": false
              }
            },
            "x2": {"field": "end"},
            "fill": {
              "field": "tone", "type": "nominal",
              "scale": {"domain": ["glacial", "interstadial"], "range": ["#dcdde0", "#f0f1f3"]},
              "legend": null
            }
          }
        },
        {
          "layer": [
            {
              "mark": {"type": "rect", "fill": "transparent", "stroke": "#231f20", "strokeWidth": 2},
              "encoding": {
                "x": {"datum": 0}, "x2": {"datum": 500},
                "y": {"datum": 72.63, "scale": {"domain": [-54.02, 82.47], "nice": false, "zero": false}},
                "y2": {"datum": 82.47}
              }
            },
            {
              "data": {"name": "stages"},
              "mark": {"type": "text", "fontSize": 23, "baseline": "middle", "align": "center"},
              "encoding": {
                "x": {"field": "age", "type": "quantitative", "title": "Age (ka)"},
                "y": {"datum": 77.55},
                "text": {"field": "label"}
              }
            },
            {
              "mark": {"type": "text", "fontSize": 27, "baseline": "middle", "align": "center"},
              "encoding": {"x": {"datum": 250.3}, "y": {"datum": 87.24}, "text": {"value": "South Tasman Rise transect"}}
            },
            {
              "mark": {"type": "rule", "strokeDash": [9, 7], "strokeWidth": 1.2, "color": "#3a3a3a"},
              "encoding": {"x": {"datum": 0}, "x2": {"datum": 480}, "y": {"datum": 20}}
            },
            {
              "mark": {"type": "rule", "strokeWidth": 1.5, "color": "#231f20"},
              "encoding": {"x": {"datum": 0}, "y": {"datum": 0}, "y2": {"datum": 70}}
            },
            {
              "data": {"name": "coarse"},
              "mark": {"type": "line", "strokeWidth": 2.3, "strokeJoin": "round"},
              "encoding": {
                "x": {"field": "age", "type": "quantitative", "title": "Age (ka)"},
                "y": {
                  "field": "value", "type": "quantitative",
                  "axis": {
                    "orient": "left", "values": [0, 10, 20, 30, 40, 50, 60, 70], "domain": false,
                    "tickSize": 15, "labelPadding": 15, "title": "Coarse carbonate content (wt-%)",
                    "titlePadding": 24, "titleY": 380
                  }
                },
                "stroke": {
                  "field": "core", "type": "nominal", "legend": null,
                  "scale": {
                    "domain": ["SO136-155", "SO136-162", "SO136-163", "SO136-164", "MD97-2107"],
                    "range": ["#3ab54a", "#f7941d", "#0072bc", "#ed1c24", "#00b6f0"]
                  }
                }
              }
            },
            {
              "mark": {"type": "rule", "strokeWidth": 1.3, "color": "#3ab54a"},
              "encoding": {"x": {"datum": 134.9}, "x2": {"datum": 148.7}, "y": {"datum": 52.1}, "y2": {"datum": 55.4}}
            },
            {
              "mark": {"type": "text", "align": "left", "baseline": "middle", "fontSize": 21, "color": "#3ab54a"},
              "encoding": {"x": {"datum": 150.3}, "y": {"datum": 57.65}, "text": {"value": "SO136-155 (3,208 m)"}}
            },
            {
              "mark": {"type": "rule", "strokeWidth": 1.3, "color": "#f7941d"},
              "encoding": {"x": {"datum": 204.2}, "x2": {"datum": 217.5}, "y": {"datum": 44.29}, "y2": {"datum": 47.15}}
            },
            {
              "mark": {"type": "text", "align": "left", "baseline": "middle", "fontSize": 21, "color": "#f7941d"},
              "encoding": {"x": {"datum": 219.9}, "y": {"datum": 48.68}, "text": {"value": "SO136-162 (3,682 m)"}}
            },
            {
              "mark": {"type": "rule", "strokeWidth": 1.3, "color": "#0072bc"},
              "encoding": {"x": {"datum": 244.4}, "x2": {"datum": 257.7}, "y": {"datum": 31.31}, "y2": {"datum": 34.36}}
            },
            {
              "mark": {"type": "text", "align": "left", "baseline": "middle", "fontSize": 21, "color": "#0072bc"},
              "encoding": {"x": {"datum": 258.7}, "y": {"datum": 36.65}, "text": {"value": "SO136-163 (3,236 m)"}}
            },
            {
              "mark": {"type": "rule", "strokeWidth": 1.3, "color": "#ed1c24"},
              "encoding": {"x": {"datum": 12.7}, "x2": {"datum": 25.9}, "y": {"datum": 4.58}, "y2": {"datum": 1.34}}
            },
            {
              "mark": {"type": "text", "align": "left", "baseline": "middle", "fontSize": 21, "color": "#ed1c24"},
              "encoding": {"x": {"datum": 28.6}, "y": {"datum": -1.15}, "text": {"value": "SO136-164 (4,068 m)"}}
            },
            {
              "mark": {"type": "text", "align": "center", "baseline": "middle", "fontSize": 23.5, "lineHeight": 29},
              "encoding": {"x": {"datum": 402.1}, "y": {"datum": 54.6}, "text": {"value": ["Eastern side of the", "South Tasman Rise"]}}
            },
            {
              "mark": {"type": "text", "align": "center", "baseline": "middle", "fontSize": 23.5},
              "encoding": {"x": {"datum": 500}, "y": {"datum": 65.47}, "text": {"value": "low"}}
            },
            {
              "mark": {"type": "text", "align": "center", "baseline": "middle", "fontSize": 23.5},
              "encoding": {"x": {"datum": 500}, "y": {"datum": -46.2}, "text": {"value": "high"}}
            },
            {
              "mark": {"type": "rule", "strokeWidth": 2.5, "color": "#231f20"},
              "encoding": {"x": {"datum": 500}, "y": {"datum": 57.27}, "y2": {"datum": -36.27}}
            },
            {
              "mark": {"type": "point", "shape": "M0,-1L0.85,1L0,0.55L-0.85,1Z", "filled": true, "size": 625, "color": "#231f20", "opacity": 1, "strokeWidth": 0},
              "encoding": {"x": {"datum": 500}, "y": {"datum": 58.13}}
            },
            {
              "mark": {"type": "point", "shape": "M0,1L0.85,-1L0,-0.55L-0.85,-1Z", "filled": true, "size": 625, "color": "#231f20", "opacity": 1, "strokeWidth": 0},
              "encoding": {"x": {"datum": 500}, "y": {"datum": -37.13}}
            },
            {
              "mark": {"type": "text", "align": "center", "baseline": "middle", "fontSize": 23.5, "angle": 90},
              "encoding": {"x": {"datum": 516.9}, "y": {"datum": 9.54}, "text": {"value": "Carbonate dissolution"}}
            },
            {
              "mark": {"type": "text", "align": "center", "baseline": "middle", "fontSize": 24, "fontWeight": "bold", "fontStyle": "italic"},
              "encoding": {"x": {"datum": -56.6}, "y": {"datum": 90.67}, "text": {"value": "a."}}
            }
          ]
        },
        {
          "layer": [
            {
              "mark": {"type": "rule", "strokeWidth": 1.5, "color": "#231f20"},
              "encoding": {
                "x": {"datum": 0},
                "y": {"datum": 20, "scale": {"domain": [17.03, 152.38], "nice": false, "zero": false}},
                "y2": {"datum": 60}
              }
            },
            {
              "data": {"name": "md97"},
              "mark": {"type": "line", "strokeWidth": 2.3, "strokeJoin": "round"},
              "encoding": {
                "x": {"field": "age", "type": "quantitative", "title": "Age (ka)"},
                "y": {
                  "field": "value", "type": "quantitative",
                  "axis": {
                    "orient": "left", "values": [20, 30, 40, 50, 60], "domain": false,
                    "tickSize": 15, "labelPadding": 15, "title": null
                  }
                },
                "stroke": {
                  "field": "core", "type": "nominal", "legend": null,
                  "scale": {
                    "domain": ["SO136-155", "SO136-162", "SO136-163", "SO136-164", "MD97-2107"],
                    "range": ["#3ab54a", "#f7941d", "#0072bc", "#ed1c24", "#00b6f0"]
                  }
                }
              }
            },
            {
              "mark": {"type": "rule", "strokeWidth": 1.3, "color": "#00b6f0"},
              "encoding": {"x": {"datum": 138.6}, "x2": {"datum": 151.9}, "y": {"datum": 31.42}, "y2": {"datum": 27.82}}
            },
            {
              "mark": {"type": "text", "align": "left", "baseline": "middle", "fontSize": 21, "color": "#00b6f0"},
              "encoding": {"x": {"datum": 154.5}, "y": {"datum": 25.93}, "text": {"value": "MD97-2107 (2,950 m)"}}
            },
            {
              "mark": {"type": "text", "align": "center", "baseline": "middle", "fontSize": 23.5, "lineHeight": 29},
              "encoding": {"x": {"datum": 302.1}, "y": {"datum": 41.07}, "text": {"value": ["Western side of the", "South Tasman Rise"]}}
            }
          ]
        }
      ],
      "resolve": {"scale": {"y": "independent"}, "axis": {"y": "independent"}}
    },
    {
      "width": 945,
      "height": 435,
      "data": {"values": [{}]},
      "layer": [
        {
          "data": {"name": "bands"},
          "mark": {"type": "rect"},
          "encoding": {
            "x": {
              "field": "start", "type": "quantitative",
              "scale": {"domain": [0, 500], "nice": false, "zero": false},
              "axis": {
                "title": "Age (ka)", "values": [0, 50, 100, 150, 200, 250, 300, 350, 400, 450, 500],
                "labelExpr": "datum.value % 100 === 0 ? datum.label : ''",
                "tickSize": 16, "labelPadding": 10, "titlePadding": -3, "labelFlush": false, "labelOverlap": false
              }
            },
            "x2": {"field": "end"},
            "fill": {
              "field": "tone", "type": "nominal",
              "scale": {"domain": ["glacial", "interstadial"], "range": ["#dcdde0", "#f0f1f3"]},
              "legend": null
            }
          }
        },
        {
          "mark": {"type": "rect", "fill": "transparent", "stroke": "#231f20", "strokeWidth": 2},
          "encoding": {
            "x": {"datum": 0}, "x2": {"datum": 500},
            "y": {"datum": -19.86, "scale": {"domain": [-19.86, 104.43], "nice": false, "zero": false, "reverse": true}},
            "y2": {"datum": -5.29}
          }
        },
        {
          "data": {"name": "stages"},
          "mark": {"type": "text", "fontSize": 23, "baseline": "middle", "align": "center"},
          "encoding": {
            "x": {"field": "age", "type": "quantitative", "title": "Age (ka)"},
            "y": {"datum": -12.57},
            "text": {"field": "label"}
          }
        },
        {
          "mark": {"type": "rule", "strokeDash": [9, 7], "strokeWidth": 1.2, "color": "#3a3a3a"},
          "encoding": {"x": {"datum": 0}, "x2": {"datum": 446}, "y": {"datum": 40}}
        },
        {
          "mark": {"type": "rule", "strokeWidth": 1.5, "color": "#231f20"},
          "encoding": {"x": {"datum": 0}, "y": {"datum": 0}, "y2": {"datum": 100}}
        },
        {
          "data": {"name": "fragmentation"},
          "mark": {"type": "line", "strokeWidth": 2.3, "strokeJoin": "round"},
          "encoding": {
            "x": {"field": "age", "type": "quantitative", "title": "Age (ka)"},
            "y": {
              "field": "value", "type": "quantitative",
              "axis": {
                "orient": "left", "values": [0, 10, 20, 30, 40, 50, 60, 70, 80, 90, 100], "domain": false,
                "labelExpr": "datum.value % 20 === 0 ? datum.label : ''",
                "tickSize": 15, "labelPadding": 15, "title": "Fragmentation ratio  (%)",
                "titlePadding": 10, "titleY": 244
              }
            },
            "stroke": {
              "field": "core", "type": "nominal", "legend": null,
              "scale": {
                "domain": ["SO136-155", "SO136-162", "SO136-163", "SO136-164", "MD97-2107"],
                "range": ["#3ab54a", "#f7941d", "#0072bc", "#ed1c24", "#00b6f0"]
              }
            }
          }
        },
        {
          "mark": {"type": "rule", "strokeWidth": 1.3, "color": "#0072bc"},
          "encoding": {"x": {"datum": 153.4}, "x2": {"datum": 166.5}, "y": {"datum": 15.57}, "y2": {"datum": 11.0}}
        },
        {
          "mark": {"type": "text", "align": "left", "baseline": "middle", "fontSize": 21, "color": "#0072bc"},
          "encoding": {"x": {"datum": 171.4}, "y": {"datum": 8.14}, "text": {"value": "SO136-163 (3,236 m)"}}
        },
        {
          "mark": {"type": "rule", "strokeWidth": 1.3, "color": "#ed1c24"},
          "encoding": {"x": {"datum": 12.3}, "x2": {"datum": 25.4}, "y": {"datum": 73.37}, "y2": {"datum": 78.14}}
        },
        {
          "mark": {"type": "text", "align": "left", "baseline": "middle", "fontSize": 21, "color": "#ed1c24"},
          "encoding": {"x": {"datum": 32.3}, "y": {"datum": 82.71}, "text": {"value": "SO136-164 (4,068 m)"}}
        },
        {
          "mark": {"type": "text", "align": "center", "baseline": "middle", "fontSize": 23.5},
          "encoding": {"x": {"datum": 500}, "y": {"datum": 3.0}, "text": {"value": "low"}}
        },
        {
          "mark": {"type": "text", "align": "center", "baseline": "middle", "fontSize": 23.5},
          "encoding": {"x": {"datum": 500}, "y": {"datum": 96.7}, "text": {"value": "high"}}
        },
        {
          "mark": {"type": "rule", "strokeWidth": 2.5, "color": "#231f20"},
          "encoding": {"x": {"datum": 500}, "y": {"datum": 15.0}, "y2": {"datum": 84.71}}
        },
        {
          "mark": {"type": "point", "shape": "M0,-1L0.85,1L0,0.55L-0.85,1Z", "filled": true, "size": 625, "color": "#231f20", "opacity": 1, "strokeWidth": 0},
          "encoding": {"x": {"datum": 500}, "y": {"datum": 13.71}}
        },
        {
          "mark": {"type": "point", "shape": "M0,1L0.85,-1L0,-0.55L-0.85,-1Z", "filled": true, "size": 625, "color": "#231f20", "opacity": 1, "strokeWidth": 0},
          "encoding": {"x": {"datum": 500}, "y": {"datum": 86.0}}
        },
        {
          "mark": {"type": "text", "align": "center", "baseline": "middle", "fontSize": 23.5, "angle": 90},
          "encoding": {"x": {"datum": 516.9}, "y": {"datum": 49.57}, "text": {"value": "Carbonate dissolution"}}
        },
        {
          "mark": {"type": "text", "align": "center", "baseline": "middle", "fontSize": 24, "fontWeight": "bold", "fontStyle": "italic"},
          "encoding": {"x": {"datum": -56.6}, "y": {"datum": -23.14}, "text": {"value": "b."}}
        }
      ]
    }
  ]
}
